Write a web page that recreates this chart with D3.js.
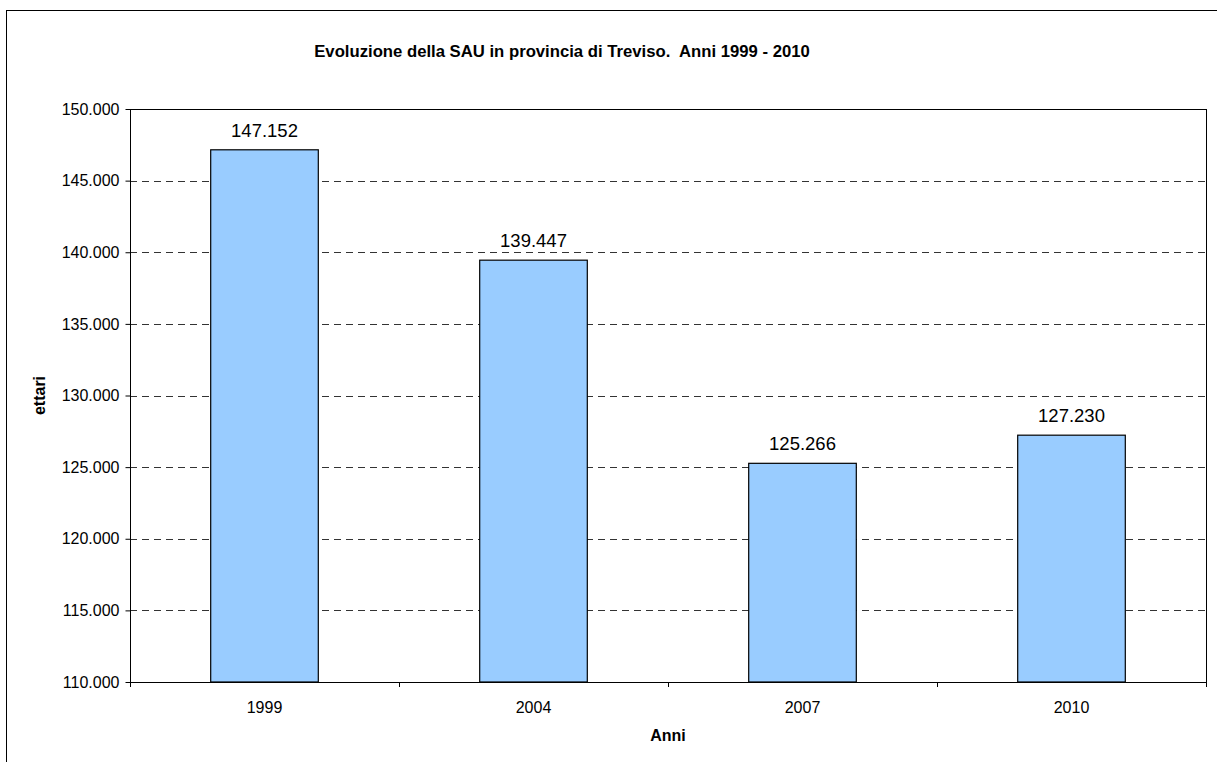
<!DOCTYPE html>
<html>
<head>
<meta charset="utf-8">
<script src="https://cdn.jsdelivr.net/npm/d3@7"></script>
<style>
  html, body { margin: 0; padding: 0; background: #fff; }
  svg { display: block; font-family: "Liberation Sans", Arial, sans-serif; }
</style>
</head>
<body>
<svg id="chart" width="1217" height="762"></svg>
<script>
// SAU (superficie agricola utilizzata), provincia di Treviso
const years = ["1999", "2004", "2007", "2010"];
const hectares = [147152, 139447, 125266, 127230];
const yTicks = [110000, 115000, 120000, 125000, 130000, 135000, 140000, 145000, 150000];

const svg = d3.select("#chart");
const plot = { left: 130, right: 1206, top: 109, bottom: 682 };

const fmt = v => d3.format(",")(v).replace(/,/g, ".");

// outer chart frame
svg.append("rect")
  .attr("x", 6.5).attr("y", 10.5)
  .attr("width", 1212).attr("height", 760)
  .attr("fill", "#fff").attr("stroke", "#000").attr("stroke-width", 1);

const x = d3.scaleBand()
  .domain(years)
  .range([plot.left, plot.right])
  .paddingInner(0.6)
  .paddingOuter(0.3);

const y = d3.scaleLinear()
  .domain([110000, 150000])
  .range([plot.bottom, plot.top]);

// plot area frame
svg.append("rect")
  .attr("x", plot.left + 0.5).attr("y", plot.top + 0.5)
  .attr("width", plot.right - plot.left).attr("height", plot.bottom - plot.top)
  .attr("fill", "#fff").attr("stroke", "#000").attr("stroke-width", 1);

// dashed horizontal gridlines
svg.append("g")
  .selectAll("line")
  .data(yTicks.filter(t => t > 110000 && t < 150000))
  .join("line")
  .attr("x1", plot.left).attr("x2", plot.right)
  .attr("y1", d => Math.round(y(d)) + 0.5).attr("y2", d => Math.round(y(d)) + 0.5)
  .attr("stroke", "#333").attr("stroke-width", 1)
  .attr("stroke-dasharray", "7,5");

const rows = years.map((yr, i) => ({ yr, v: hectares[i] }));

// bars
svg.append("g")
  .selectAll("rect")
  .data(rows)
  .join("rect")
  .attr("x", d => x(d.yr))
  .attr("y", d => y(d.v))
  .attr("width", x.bandwidth())
  .attr("height", d => y(110000) - y(d.v))
  .attr("fill", "#99ccff")
  .attr("stroke", "#000").attr("stroke-width", 1.2);

// value labels
svg.append("g")
  .selectAll("text")
  .data(rows)
  .join("text")
  .attr("x", d => x(d.yr) + x.bandwidth() / 2)
  .attr("y", d => y(d.v) - 13)
  .attr("text-anchor", "middle")
  .attr("font-size", 18.5)
  .attr("fill", "#000")
  .text(d => fmt(d.v));

// y axis
const yAxis = d3.axisLeft(y)
  .tickValues(yTicks)
  .tickSize(5)
  .tickPadding(6)
  .tickFormat(fmt);
const gy = svg.append("g")
  .attr("transform", `translate(${plot.left + 0.5},0)`)
  .call(yAxis);
gy.select(".domain").attr("stroke", "#000").attr("d", `M0,${plot.top}V${plot.bottom}`);
gy.selectAll(".tick line").attr("stroke", "#000");
gy.selectAll(".tick text").attr("font-size", 16).attr("fill", "#000")
  .attr("font-family", "Liberation Sans, Arial, sans-serif");

// x axis: tick marks between categories, labels centred below bars
const boundaries = d3.range(years.length + 1).map(i => plot.left + i * x.step());
const gx = svg.append("g");
gx.append("line")
  .attr("x1", plot.left).attr("x2", plot.right)
  .attr("y1", plot.bottom + 0.5).attr("y2", plot.bottom + 0.5)
  .attr("stroke", "#000");
gx.selectAll("line.tk")
  .data(boundaries)
  .join("line")
  .attr("class", "tk")
  .attr("x1", d => Math.round(d) + 0.5).attr("x2", d => Math.round(d) + 0.5)
  .attr("y1", plot.bottom).attr("y2", plot.bottom + 5)
  .attr("stroke", "#000");
gx.selectAll("text")
  .data(years)
  .join("text")
  .attr("x", d => x(d) + x.bandwidth() / 2)
  .attr("y", 713)
  .attr("text-anchor", "middle")
  .attr("font-size", 16)
  .attr("fill", "#000")
  .text(d => d);

// title
svg.append("text")
  .attr("x", 562).attr("y", 57)
  .attr("text-anchor", "middle")
  .attr("font-size", 16.7).attr("font-weight", "bold")
  .style("white-space", "pre")
  .text("Evoluzione della SAU in provincia di Treviso.  Anni 1999 - 2010");

// axis titles
svg.append("text")
  .attr("x", (plot.left + plot.right) / 2).attr("y", 741)
  .attr("text-anchor", "middle")
  .attr("font-size", 16).attr("font-weight", "bold")
  .text("Anni");

svg.append("text")
  .attr("transform", `translate(45,${(plot.top + plot.bottom) / 2}) rotate(-90)`)
  .attr("text-anchor", "middle")
  .attr("font-size", 16).attr("font-weight", "bold")
  .text("ettari");
</script>
</body>
</html>
